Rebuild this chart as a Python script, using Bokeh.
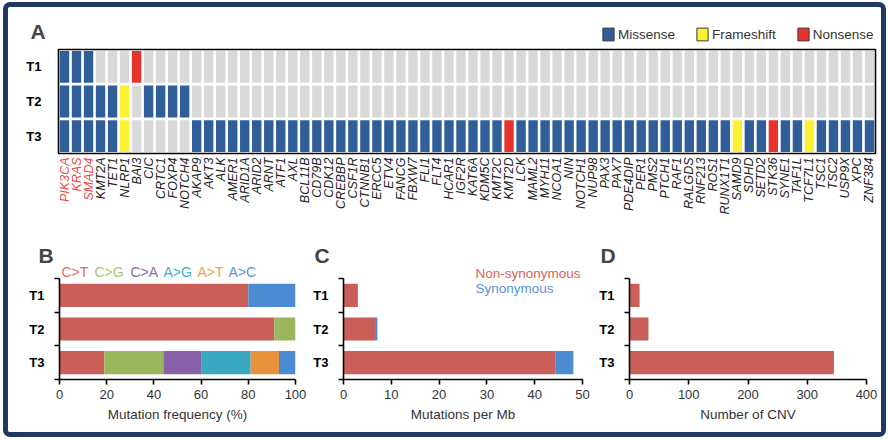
import math
from bokeh.plotting import figure
from bokeh.layouts import column, row
from bokeh.models import (ColumnDataSource, FactorRange, Range1d, FixedTicker, Label,
                          LabelSet, Legend, LegendItem, SingleIntervalTicker)
from bokeh.core.properties import value
from bokeh.embed import file_html
from bokeh.resources import INLINE

FONT = "Liberation Sans"

# ---------------- data ----------------
genes = ["PIK3CA", "KRAS", "SMAD4", "KMT2A", "TET1", "NLRP1", "BAI3", "CIC", "CRTC1", "FOXP4",
         "NOTCH4", "AKAP9", "AKT3", "ALK", "AMER1", "ARID1A", "ARID2", "ARNT", "ATF1", "AXL",
         "BCL11B", "CD79B", "CDK12", "CREBBP", "CSF1R", "CTNNB1", "ERCC5", "ETV4", "FANCG", "FBXW7",
         "FLI1", "FLT4", "HCAR1", "IGF2R", "KAT6A", "KDM5C", "KMT2C", "KMT2D", "LCK", "MAML2",
         "MYH11", "NCOA1", "NIN", "NOTCH1", "NUP98", "PAX3", "PAX7", "PDE4DIP", "PER1", "PMS2",
         "PTCH1", "RAF1", "RALGDS", "RNF213", "ROS1", "RUNX1T1", "SAMD9", "SDHD", "SETD2", "STK36",
         "SYNE1", "TAF1L", "TCF7L1", "TSC1", "TSC2", "USP9X", "XPC", "ZNF384"]
highlight_genes = ["PIK3CA", "KRAS", "SMAD4"]
samples = ["T1", "T2", "T3"]
# M = missense, F = frameshift, N = nonsense, . = none (groups of 10 genes)
status_T1 = "MMM...N... .......... .......... .......... .......... .......... ........"
status_T2 = "MMMMMF.MMM M......... .......... .......... .......... .......... ........"
status_T3 = "MMMMMF.... .MMMMMMMMM MMMMMMMMMM MMMMMMMNMM MMMMMMMMMM MMMMMMFMMN MMFMMMMM"
mut_codes = ["M", "F", "N", "."]
mut_names = ["Missense", "Frameshift", "Nonsense", "None"]
mut_colors = ["#2f5e98", "#f8f232", "#e8322c", "#d9d9d9"]

spectrum_types = ["C>T", "C>G", "C>A", "A>G", "A>T", "A>C"]
spectrum_T1 = [80, 0, 0, 0, 0, 20]
spectrum_T2 = [91, 9, 0, 0, 0, 0]
spectrum_T3 = [19, 25, 16, 21, 12, 7]
spectrum_colors = ["#c95f58", "#9ab65c", "#8862a8", "#3ba8c1", "#e9923e", "#4c8bd2"]
spectrum_text_colors = ["#e06d66", "#a9c474", "#8d63b1", "#41b0c7", "#f0a04c", "#6097da"]

tmb_nonsyn = [3.0, 6.6, 44.4]
tmb_syn = [0.0, 0.5, 3.7]
tmb_names = ["Non-synonymous", "Synonymous"]
tmb_colors = ["#c95f58", "#4c8bd2"]
tmb_text_colors = ["#d8625c", "#5b93d8"]

cnv_counts = [17, 32, 345]

W = 873  # inner width


def blank(width, height, **kw):
    p = figure(width=width, height=height, x_axis_type=None, y_axis_type=None,
               toolbar_location=None, output_backend="svg", min_border=0, **kw)
    p.outline_line_color = None
    p.grid.visible = False
    return p


def letter(p, text, x, y, place=None):
    lab = Label(x=x, y=y, x_units="canvas", y_units="canvas", text=text,
                text_font=FONT, text_font_size="21px", text_font_style="bold",
                text_baseline="middle", text_align="left")
    if place:
        p.add_layout(lab, place)
    else:
        p.add_layout(lab)


# ---------------- panel A header (letter + legend) ----------------
legend_types = mut_names[:3]
head_a = blank(W, 39, x_range=FactorRange(*legend_types), y_range=FactorRange(*legend_types))
letter(head_a, "A", 22, 24, "left")
items = []
for name, col in zip(legend_types, mut_colors[:3]):
    # zero-size swatch renderer: only its legend entry is visible
    r = head_a.rect(x="t", y="t", width=0, height=0, fill_color=col, line_color="#3a3a3a",
                    line_width=1, source=ColumnDataSource(dict(t=[name])))
    items.append(LegendItem(label=name, renderers=[r]))
legend = Legend(items=items, location=(543, 4), orientation="horizontal",
                glyph_width=14, glyph_height=16, label_standoff=3, spacing=20,
                padding=0, margin=0, border_line_alpha=0, background_fill_alpha=0,
                label_text_font=FONT, label_text_font_size="13.5px",
                label_text_color="#333333", label_height=16)
head_a.add_layout(legend)

# ---------------- panel A: heatmap ----------------
status = {"T1": status_T1.replace(" ", ""), "T2": status_T2.replace(" ", ""),
          "T3": status_T3.replace(" ", "")}
code_color = dict(zip(mut_codes, mut_colors))
cx, cy, cc = [], [], []
for s in samples:
    for g, c in zip(genes, status[s]):
        cx.append(g)
        cy.append(s)
        cc.append(code_color[c])
cells = ColumnDataSource(dict(gene=cx, sample=cy, color=cc))

gene_range = FactorRange(*genes)
heat = figure(width=W, height=109, x_range=gene_range,
              y_range=FactorRange(*samples[::-1]), toolbar_location=None,
              output_backend="svg", min_border_left=50, min_border_right=6,
              min_border_top=3, min_border_bottom=2)
heat.rect(x="gene", y="sample", width=0.78, height=0.92, fill_color="color",
          line_color=None, source=cells)
heat.grid.visible = False
heat.outline_line_color = "black"
heat.outline_line_width = 1.6
heat.xaxis.visible = False
ya = heat.yaxis[0]
ya.axis_line_color = None
ya.major_tick_line_color = None
ya.minor_tick_line_color = None
ya.major_label_text_font = FONT
ya.major_label_text_font_size = "13px"
ya.major_label_text_font_style = "bold"
ya.major_label_text_color = "black"
ya.major_label_standoff = 11

# gene names strip (shares the heatmap's gene axis)
gstrip = figure(width=W, height=80, x_range=gene_range, y_range=Range1d(0, 1),
                x_axis_type=None, y_axis_type=None, toolbar_location=None,
                output_backend="svg", min_border_left=50, min_border_right=6,
                min_border_top=0, min_border_bottom=0)
gstrip.outline_line_color = None
gstrip.grid.visible = False
label_colors = ["#ee4a45" if g in highlight_genes else "#222222" for g in genes]
gstrip.text(x="gene", y=1, text="gene", angle=math.pi / 2, text_align="right",
            text_baseline="middle", y_offset=2, text_color="color",
            text_font=value(FONT), text_font_size="12.5px", text_font_style="italic",
            source=ColumnDataSource(dict(gene=genes, color=label_colors)))

# ---------------- header with letters B, C, D ----------------
head_b = blank(W, 30, x_range=Range1d(0, 1), y_range=Range1d(0, 1))
letter(head_b, "B", 30, 19.5, "left")
letter(head_b, "C", 306, 19.5)
letter(head_b, "D", 592, 19.5)

# ---------------- bottom panels ----------------
ypos = [len(samples) - 0.5 - i for i in range(len(samples))]
bounds = list(range(len(samples) + 1))
PANEL_H = 167
FRAME_H = PANEL_H - 53
AXIS_H = 101
y_top = len(samples) * FRAME_H / AXIS_H


def bar_panel(width, left, right, xmax, step, title):
    p = figure(width=width, height=PANEL_H, x_range=Range1d(0, xmax),
               y_range=Range1d(0, y_top), toolbar_location=None, output_backend="svg",
               min_border_left=left, min_border_right=right, min_border_top=0,
               min_border_bottom=53)
    p.outline_line_color = None
    p.grid.visible = False
    xa = p.xaxis[0]
    xa.ticker = SingleIntervalTicker(interval=step, num_minor_ticks=0)
    xa.axis_line_width = 1.6
    xa.axis_line_color = "black"
    xa.major_tick_line_color = "black"
    xa.major_tick_line_width = 1.6
    xa.major_tick_out = 5
    xa.major_tick_in = 0
    xa.minor_tick_line_color = None
    xa.major_label_text_font = FONT
    xa.major_label_text_font_size = "13px"
    xa.major_label_text_color = "#333333"
    xa.major_label_standoff = 5
    xa.axis_label = title
    xa.axis_label_text_font = FONT
    xa.axis_label_text_font_size = "13.5px"
    xa.axis_label_text_font_style = "normal"
    xa.axis_label_text_color = "#333333"
    xa.axis_label_standoff = 5
    ya = p.yaxis[0]
    ya.bounds = (0, len(samples))
    ya.ticker = FixedTicker(ticks=ypos, minor_ticks=bounds)
    ya.major_label_overrides = {y: s for y, s in zip(ypos, samples)}
    ya.axis_line_width = 1.6
    ya.axis_line_color = "black"
    ya.major_tick_out = 0
    ya.major_tick_in = 0
    ya.major_tick_line_color = None
    ya.minor_tick_line_color = "black"
    ya.minor_tick_line_width = 1.6
    ya.minor_tick_out = 5
    ya.minor_tick_in = 0
    ya.major_label_text_font = FONT
    ya.major_label_text_font_size = "13px"
    ya.major_label_text_font_style = "bold"
    ya.major_label_text_color = "black"
    ya.major_label_standoff = 10
    return p


# B: mutation spectrum
pb = bar_panel(302, 51, 15, 100, 20, "Mutation frequency (%)")
bsrc = dict(y=ypos)
for i, t in enumerate(spectrum_types):
    bsrc[t] = [spectrum_T1[i], spectrum_T2[i], spectrum_T3[i]]
pb.hbar_stack(spectrum_types, y="y", height=0.69, fill_color=spectrum_colors,
              line_color=None, source=ColumnDataSource(bsrc))
spec_x = [53, 86, 122, 155, 189, 220]
pb.add_layout(LabelSet(x="x", y=6, x_units="canvas", y_units="canvas", text="t",
                       text_color="c", text_font=value(FONT), text_font_size="14px",
                       text_baseline="middle", text_align="left",
                       source=ColumnDataSource(dict(x=spec_x, t=spectrum_types,
                                                    c=spectrum_text_colors))))

# C: mutations per Mb
pc = bar_panel(285, 33, 13, 50, 10, "Mutations per Mb")
pc.hbar_stack(["nonsyn", "syn"], y="y", height=0.69, fill_color=tmb_colors, line_color=None,
              source=ColumnDataSource(dict(y=ypos, nonsyn=tmb_nonsyn, syn=tmb_syn)))
pc.add_layout(LabelSet(x=165, y="y", x_units="canvas", y_units="canvas", text="t",
                       text_color="c", text_font=value(FONT), text_font_size="13.5px",
                       text_baseline="middle", text_align="left",
                       source=ColumnDataSource(dict(y=[8, 23], t=tmb_names,
                                                    c=tmb_text_colors))))

# D: number of CNV
pd_ = bar_panel(286, 34, 15, 400, 100, "Number of CNV")
pd_.hbar(y="y", right="cnv", height=0.69, fill_color="#c95f58", line_color=None,
         source=ColumnDataSource(dict(y=ypos, cnv=cnv_counts)))

layout = column(head_a, heat, gstrip, head_b, row(pb, pc, pd_, spacing=0), spacing=0,
                styles={"border": "5px solid #1e3a62", "border-radius": "7px",
                        "margin": "2px 0px 0px 3px"})

open("out.html", "w").write(file_html(layout, INLINE))
